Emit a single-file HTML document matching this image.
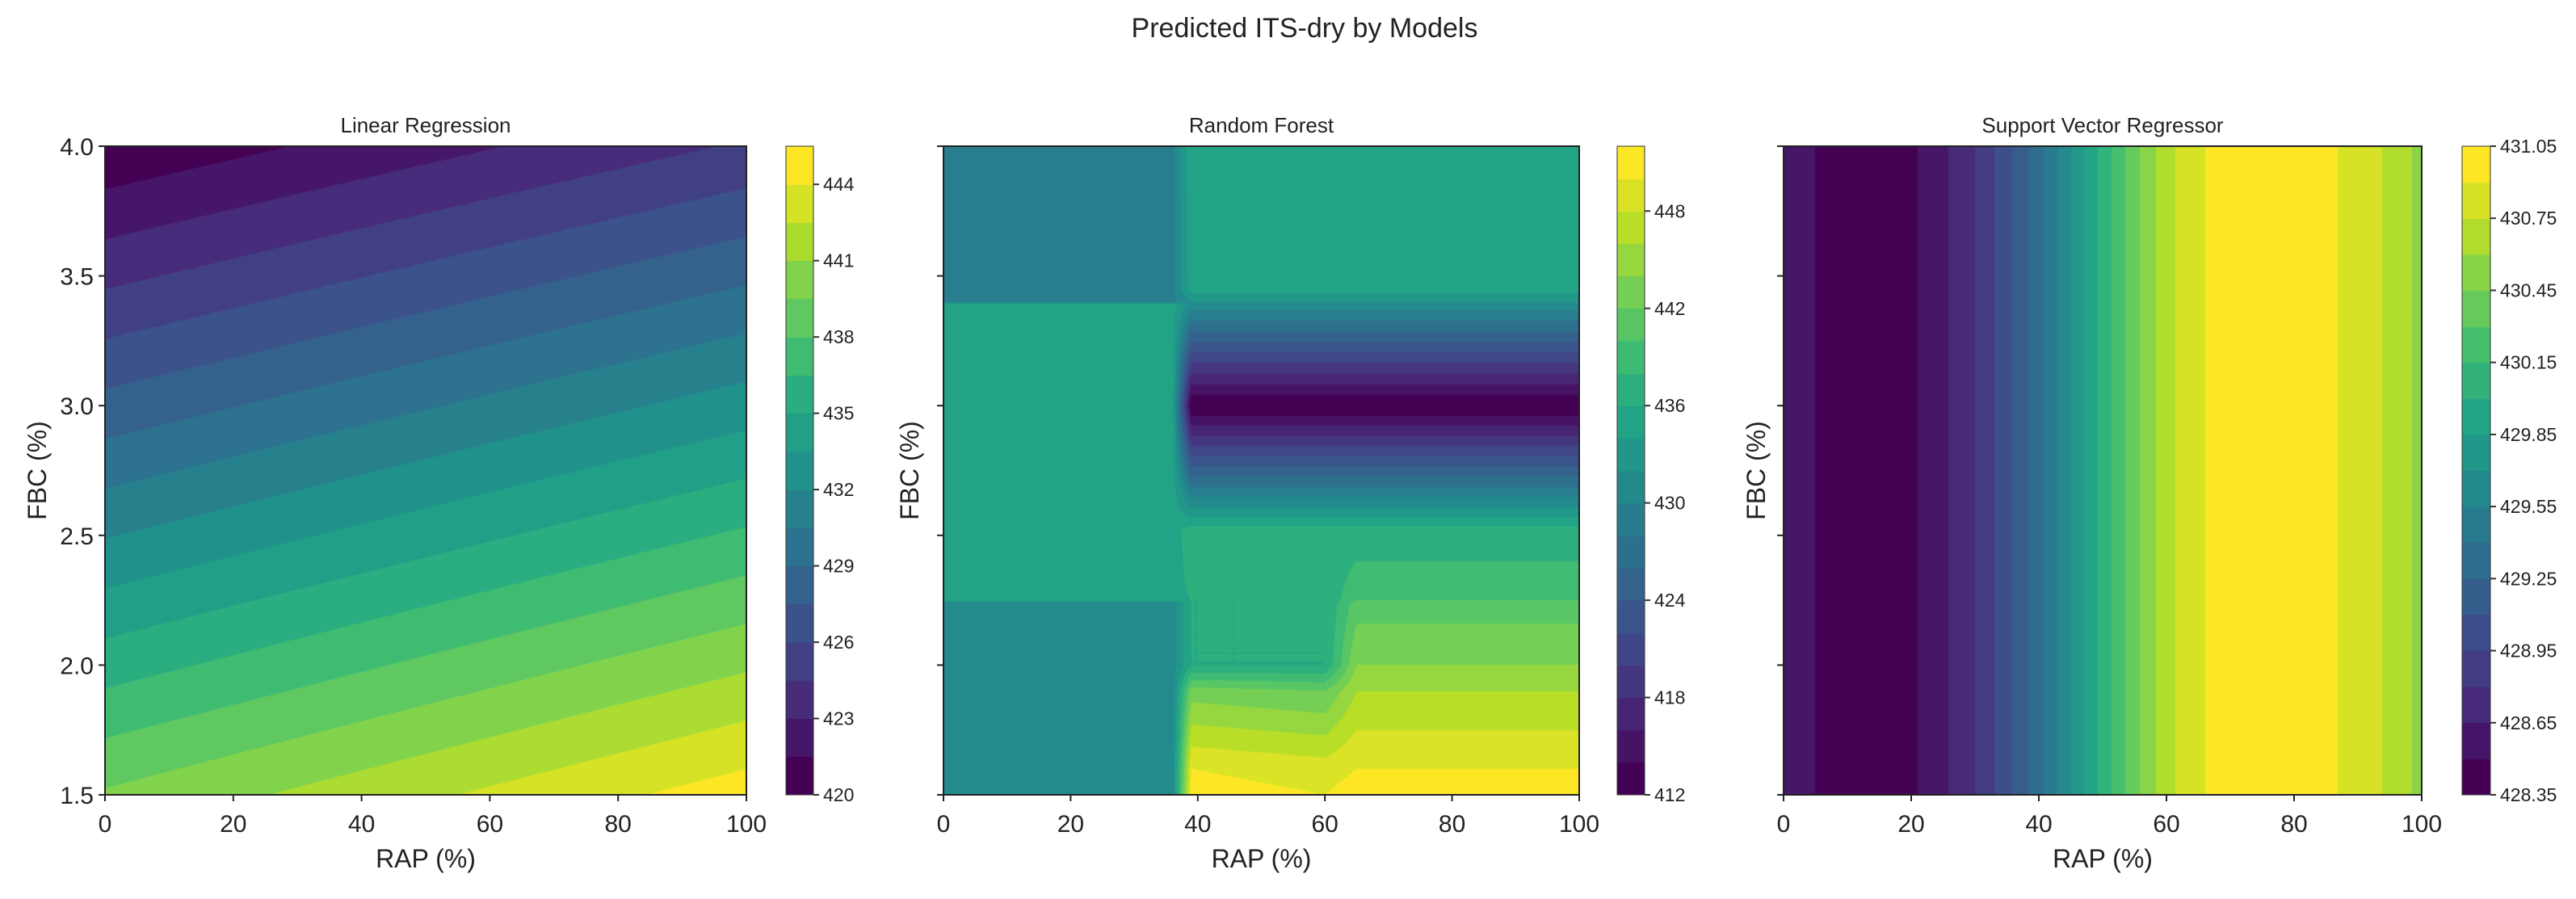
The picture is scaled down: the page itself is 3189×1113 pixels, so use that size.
<!DOCTYPE html>
<html><head><meta charset="utf-8">
<style>
html,body{margin:0;padding:0;background:#fff;}
#root{position:relative;width:3189px;height:1113px;overflow:hidden;font-family:"Liberation Sans","DejaVu Sans",sans-serif;}
canvas{position:absolute;}
svg{position:absolute;left:0;top:0;}
</style></head>
<body>
<div id="root">
<canvas id="c1"></canvas>
<canvas id="c2"></canvas>
<canvas id="c3"></canvas>
<canvas id="b1"></canvas>
<canvas id="b2"></canvas>
<canvas id="b3"></canvas>
<svg id="ov" width="3189" height="1113"></svg>
</div>
<script>
// ---- Data ----
const xTicks = [0,20,40,60,80,100];
const yTicks = [1.5,2.0,2.5,3.0,3.5,4.0];
// Linear regression: values at grid corners
const lrRap = [0,100];
const lrFbc = [1.5,4.0];
const lrVals = [[439.7,444.8],[420.2,424.7]];
const lrLevels = {min:420, max:445.5, step:1.5};
const lrCbTicks = [420,423,426,429,432,435,438,441,444];
// Random forest grid
const rfRap = [0,36,39,60,65,100];
const rfFbc = [1.5,1.6,1.9,2.0,2.24,2.25,2.3,2.5,2.52,2.55,3.0,3.39,3.4,3.45,4.0];
const rfVals = [
 [431,431,451,450,451,451],
 [431,431,450,449,450,450],
 [431,431,443,442,446,446],
 [431,431,436,436,444,444],
 [431,431,436,436,441,441],
 [435,435,436,436,440,440],
 [435,435,436.5,436.5,439,439],
 [435,435,437,437,437,437],
 [435,435,437,437,437,437],
 [435,435,435,435,435,435],
 [435,435,412,412,412,412],
 [435,435,431,431,431,431],
 [429.5,429.5,432,432,432,432],
 [429.5,429.5,435,435,435,435],
 [429.5,429.5,435.5,435.5,435.5,435.5]
];
const rfLevels = {min:412, max:452, step:2};
const rfCbTicks = [412,418,424,430,436,442,448];
// SVR: depends on RAP only
const svRap = [0,5,10,15,20,25,30,35,40,45,50,55,60,65,70,75,80,85,90,95,100];
const svVals = [428.58,428.5,428.42,428.4,428.47,428.62,428.8,429.05,429.35,429.7,430.05,430.4,430.7,430.88,430.97,431.02,431.0,430.93,430.85,430.72,430.55];
const svFbc = [1.5,4.0];
const svLevels = {min:428.35, max:431.05, step:0.15};
const svCbTicks = [428.35,428.65,428.95,429.25,429.55,429.85,430.15,430.45,430.75,431.05];

// ---- Layout ----
const TOP=181, H=803;
const panels = [
 {id:1, x:130, w:794, cb:973, cbw:34, title:'Linear Regression', ylabels:true, ylabX:46, levels:lrLevels, ticks:lrCbTicks, fmt:v=>v.toFixed(0)},
 {id:2, x:1168, w:787, cb:2002, cbw:34, title:'Random Forest', ylabels:false, ylabX:1126, levels:rfLevels, ticks:rfCbTicks, fmt:v=>v.toFixed(0)},
 {id:3, x:2208, w:790, cb:3048, cbw:35, title:'Support Vector Regressor', ylabels:false, ylabX:2174, levels:svLevels, ticks:svCbTicks, fmt:v=>v.toFixed(2)}
];

const vir = ['#440154','#482475','#414487','#355f8d','#2a788e','#21918c','#22a884','#44bf70','#7ad151','#bddf26','#fde725'].map(h=>[parseInt(h.slice(1,3),16),parseInt(h.slice(3,5),16),parseInt(h.slice(5,7),16)]);
function viridis(t){t=Math.max(0,Math.min(1,t));const f=t*10;const i=Math.min(9,Math.floor(f));const r=f-i;const a=vir[i],b=vir[i+1];return [a[0]+(b[0]-a[0])*r,a[1]+(b[1]-a[1])*r,a[2]+(b[2]-a[2])*r];}
function bandColor(v,L){const n=Math.round((L.max-L.min)/L.step);let i=Math.floor((v-L.min)/L.step);i=Math.max(0,Math.min(n-1,i));return viridis(i/(n-1));}
function seg(arr,v){let i=0;while(i<arr.length-2&&v>arr[i+1])i++;const t=(v-arr[i])/(arr[i+1]-arr[i]);return [i,Math.max(0,Math.min(1,t))];}
function bilinear(xs,ys,vals,x,y){const [i,tx]=seg(xs,x);const [j,ty]=seg(ys,y);const a=vals[j][i],b=vals[j][i+1],c=vals[j+1][i],d=vals[j+1][i+1];return (a*(1-tx)+b*tx)*(1-ty)+(c*(1-tx)+d*tx)*ty;}
const fields = {
 1:(x,y)=>bilinear(lrRap,lrFbc,lrVals,x,y),
 2:(x,y)=>bilinear(rfRap,rfFbc,rfVals,x,y),
 3:(x,y)=>{const [i,t]=seg(svRap,x);return svVals[i]*(1-t)+svVals[i+1]*t;}
};

const ov=document.getElementById('ov');
const NS='http://www.w3.org/2000/svg';
function el(tag,attrs,name,text){const e=document.createElementNS(NS,tag);for(const k in attrs)e.setAttribute(k,attrs[k]);
 
 
 if(text!==undefined)e.textContent=text;ov.appendChild(e);return e;}

const title=el('text',{x:1615,y:46,'text-anchor':'middle','font-size':34,fill:'#222'},'figure-title','Predicted ITS-dry by Models');

panels.forEach(p=>{
 const xs=v=>p.x+v/100*p.w;
 const ys=v=>TOP+H-(v-1.5)/2.5*H;
 const c=document.getElementById('c'+p.id);c.width=p.w;c.height=H;c.style.left=p.x+'px';c.style.top=TOP+'px';
 const ctx=c.getContext('2d');const img=ctx.createImageData(p.w,H);const f=fields[p.id];
 for(let py=0;py<H;py++){const fy=4.0-(py+0.5)/H*2.5;for(let px=0;px<p.w;px++){const fx=(px+0.5)/p.w*100;const col=bandColor(f(fx,fy),p.levels);const k=(py*p.w+px)*4;img.data[k]=col[0];img.data[k+1]=col[1];img.data[k+2]=col[2];img.data[k+3]=255;}}
 ctx.putImageData(img,0,0);
 const L=p.levels;const n=Math.round((L.max-L.min)/L.step);
 const b=document.getElementById('b'+p.id);b.width=p.cbw;b.height=H;b.style.left=p.cb+'px';b.style.top=TOP+'px';
 const bc=b.getContext('2d');
 for(let i=0;i<n;i++){const col=viridis(i/(n-1));bc.fillStyle=`rgb(${col[0]|0},${col[1]|0},${col[2]|0})`;const y0=H-(i+1)/n*H,y1=H-i/n*H;bc.fillRect(0,Math.floor(y0),p.cbw,Math.ceil(y1)-Math.floor(y0));}
 el('rect',{x:p.cb,y:TOP,width:p.cbw,height:H,fill:'none',stroke:'#333','stroke-width':1},'colorbar-frame-'+p.id);
 const cy=v=>TOP+H-(v-L.min)/(L.max-L.min)*H;
 p.ticks.forEach(v=>{
  el('line',{x1:p.cb+p.cbw,x2:p.cb+p.cbw+7,y1:cy(v),y2:cy(v),stroke:'#333','stroke-width':2},'colorbar-tick');
  el('text',{x:p.cb+p.cbw+12,y:cy(v)+8,'font-size':23,fill:'#222'},'colorbar-tick-label',p.fmt(v));
 });
 el('rect',{x:p.x,y:TOP,width:p.w,height:H,fill:'none',stroke:'#222','stroke-width':2},'plot-frame-'+p.id);
 el('text',{x:p.x+p.w/2,y:164,'text-anchor':'middle','font-size':26,fill:'#222'},'subplot-title',p.title);
 xTicks.forEach(v=>{
  el('line',{x1:xs(v),x2:xs(v),y1:TOP+H,y2:TOP+H+8,stroke:'#222','stroke-width':2},'x-tick');
  el('text',{x:xs(v),y:TOP+H+46,'text-anchor':'middle','font-size':30,fill:'#222'},'x-tick-label',String(v));
 });
 yTicks.forEach(v=>{
  el('line',{x1:p.x-8,x2:p.x,y1:ys(v),y2:ys(v),stroke:'#222','stroke-width':2},'y-tick');
  if(p.ylabels) el('text',{x:p.x-14,y:ys(v)+11,'text-anchor':'end','font-size':30,fill:'#222'},'y-tick-label',v.toFixed(1));
 });
 el('text',{x:p.x+p.w/2,y:1074,'text-anchor':'middle','font-size':32,fill:'#222'},'x-axis-title','RAP (%)');
 el('text',{x:p.ylabX,y:TOP+H/2,'text-anchor':'middle','font-size':32,fill:'#222',transform:`rotate(-90 ${p.ylabX} ${TOP+H/2})`,dy:11},'y-axis-title','FBC (%)');
});
</script>
</body></html>
